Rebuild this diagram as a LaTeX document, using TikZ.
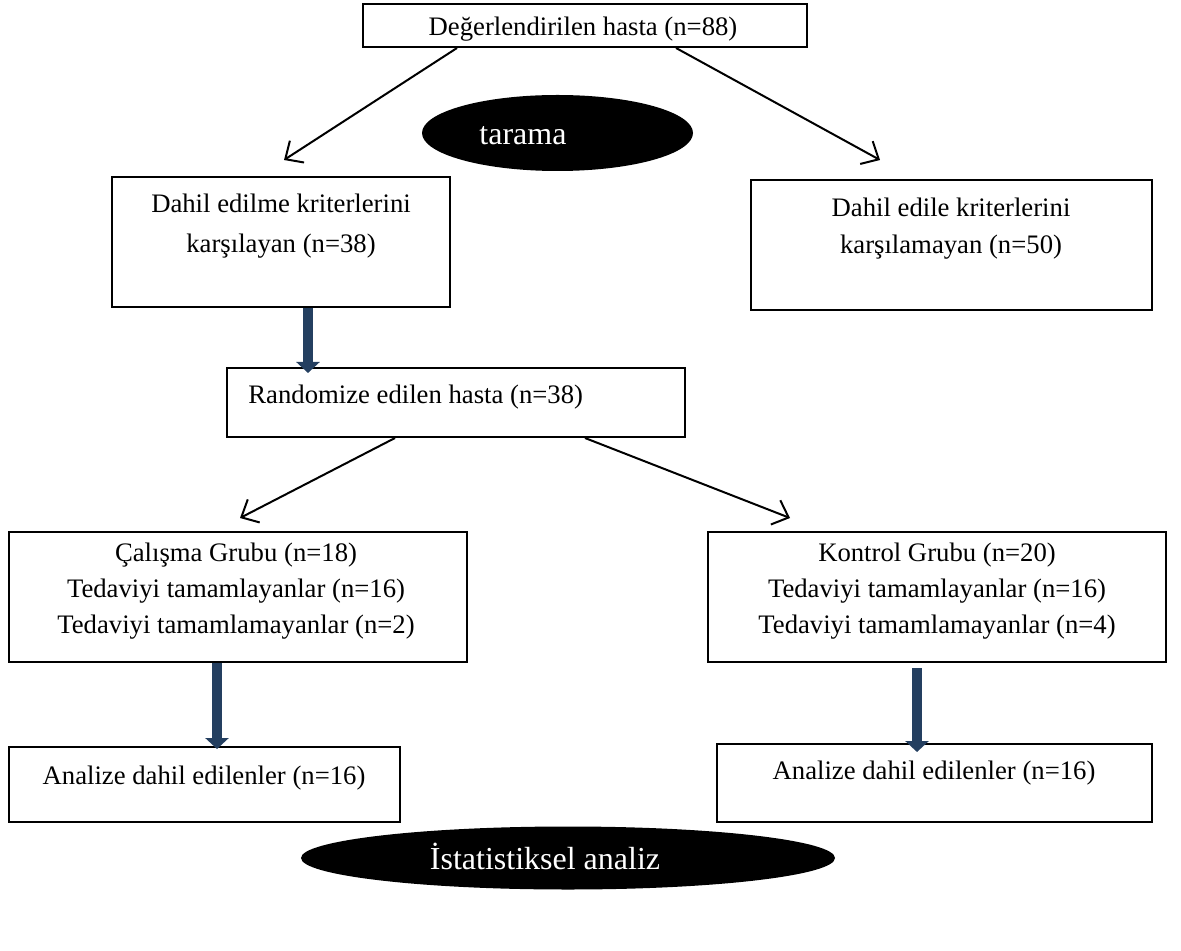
\documentclass[tikz,border=0pt]{standalone}
\usepackage{fontspec}
\setmainfont{Liberation Serif}
\usetikzlibrary{arrows.meta,shapes.geometric,calc}
\definecolor{arrowblue}{HTML}{243F60}
\begin{document}
\begin{tikzpicture}[x=0.5pt,y=-0.5pt,
  box/.style={draw, line width=1pt, inner sep=0pt},
  txt/.style={font=\fontsize{13.35}{15}\selectfont, inner sep=0pt, anchor=base},
  oval/.style={ellipse, fill=black, inner sep=0pt},
  ovaltxt/.style={font=\fontsize{16}{18}\selectfont, text=white, inner sep=0pt, anchor=base},
  thinarrow/.style={-{Straight Barb[length=7pt,width=13pt]}, line width=1pt},
  fatarrow/.style={-{Triangle[length=5.5pt,width=11.5pt]}, line width=5pt, draw=arrowblue}]
\useasboundingbox (0,0) rectangle (1181,951);

% boxes (centres and sizes in px, 1px = 0.5pt)
\node[box, minimum width=222pt, minimum height=21.5pt] (top) at (585,25.5) {};
\node[box, minimum width=169pt, minimum height=65pt] (incl) at (281,242.5) {};
\node[box, minimum width=200.5pt, minimum height=65pt] (excl) at (951.5,245) {};
\node[box, minimum width=229pt, minimum height=34.5pt] (rand) at (456,402.5) {};
\node[box, minimum width=229pt, minimum height=65pt] (study) at (238,597) {};
\node[box, minimum width=229pt, minimum height=65pt] (ctrl) at (937,597) {};
\node[box, minimum width=195.5pt, minimum height=37.5pt] (anL) at (204.5,784.5) {};
\node[box, minimum width=217.5pt, minimum height=39pt] (anR) at (934.5,783) {};

% ellipses
\node[oval, minimum width=135.5pt, minimum height=38pt] (tarama) at (557.5,133) {};
\node[oval, minimum width=267pt, minimum height=31.5pt] (stat) at (568,858) {};

% texts
\node[txt] (t1) at (583,36) {Değerlendirilen hasta (n=88)};
\node[txt] (t2) at (281,213) {Dahil edilme kriterlerini};
\node[txt] (t3) at (281,253) {karşılayan (n=38)};
\node[txt] (t4) at (951,217) {Dahil edile kriterlerini};
\node[txt] (t5) at (951,254) {karşılamayan (n=50)};
\node[txt, anchor=base west] (t6) at (248,403) {Randomize edilen hasta (n=38)};
\node[txt] (t7) at (236,561) {Çalışma Grubu (n=18)};
\node[txt] (t8) at (236,597) {Tedaviyi tamamlayanlar (n=16)};
\node[txt] (t9) at (236,633) {Tedaviyi tamamlamayanlar (n=2)};
\node[txt] (t10) at (937,561) {Kontrol Grubu (n=20)};
\node[txt] (t11) at (937,597) {Tedaviyi tamamlayanlar (n=16)};
\node[txt] (t12) at (937,633) {Tedaviyi tamamlamayanlar (n=4)};
\node[txt] (t13) at (204,784) {Analize dahil edilenler (n=16)};
\node[txt] (t14) at (934,779) {Analize dahil edilenler (n=16)};
\node[ovaltxt] (t15) at (523,145) {tarama};
\node[ovaltxt] (t16) at (545,869) {İstatistiksel analiz};

% connector ends
\coordinate (a1s) at (top.south -| 457,0);
\coordinate (a1e) at (284,160);
\coordinate (a2s) at (top.south -| 676,0);
\coordinate (a2e) at (880,160);
\coordinate (b1s) at (rand.south -| 395,0);
\coordinate (b1e) at (240,518);
\coordinate (b2s) at (rand.south -| 585,0);
\coordinate (b2e) at (790,518);

\draw[thinarrow] (a1s) -- (a1e);
\draw[thinarrow] (a2s) -- (a2e);
\draw[thinarrow] (b1s) -- (b1e);
\draw[thinarrow] (b2s) -- (b2e);

\draw[fatarrow] (incl.south -| 308,0) -- ([yshift=-3pt]rand.north -| 308,0);
\draw[fatarrow] (study.south -| 217,0) -- ([yshift=-1.5pt]anL.north -| 217,0);
\draw[fatarrow] ([yshift=-2.5pt]ctrl.south -| 917,0) -- ([yshift=-4.5pt]anR.north -| 917,0);
\end{tikzpicture}
\end{document}
